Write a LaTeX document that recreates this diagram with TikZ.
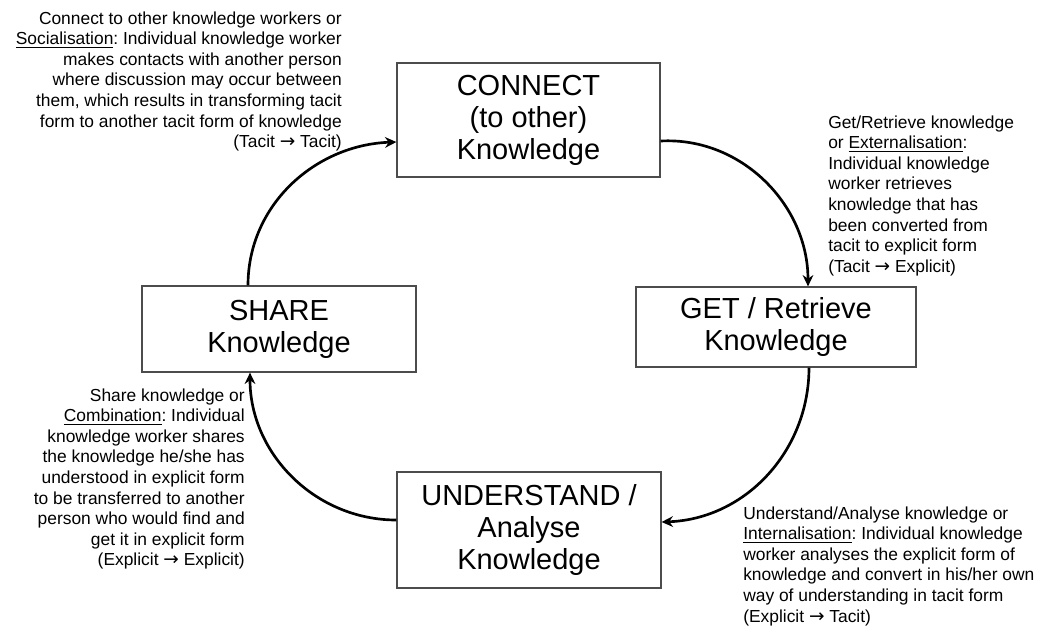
\documentclass[tikz,border=0pt]{standalone}
\usepackage{fontspec}
\setmainfont{Liberation Sans}
\newfontfamily\arrowfont{DejaVu Sans}
\newcommand{\toarrow}{{\arrowfont\fontsize{13.9}{15.4}\selectfont →}}
\usetikzlibrary{arrows.meta,calc}
\frenchspacing
\begin{document}
\begin{tikzpicture}[x=0.75pt,y=-0.75pt,
  box/.style={draw=black!70, line width=0.9pt, align=center, inner sep=0pt,
    font=\fontsize{21.75}{24}\selectfont},
  note/.style={inner sep=0pt, font=\fontsize{13.05}{15.4}\selectfont},
  flow/.style={line width=2pt, -{Stealth[length=8.5pt,width=8pt]}}]
\useasboundingbox (0,0) rectangle (1040,626);
% boxes
\node[box, minimum width=197.25pt, minimum height=85.5pt] (c) at (528.5,120) {CONNECT\\(to other)\\Knowledge};
\node[box, minimum width=210pt, minimum height=60pt] (g) at (776,327) {GET / Retrieve\\Knowledge};
\node[box, minimum width=205.5pt, minimum height=64.5pt] (s) at (279,329) {SHARE\\Knowledge};
\node[box, minimum width=198pt, minimum height=87pt] (u) at (529,530) {UNDERSTAND /\\Analyse\\Knowledge};
% notes
\node[note, align=right, anchor=north east] (n1) at (342,11.5) {Connect to other knowledge workers or\\
\underline{Socialisation}: Individual knowledge worker\\
makes contacts with another person\\
where discussion may occur between\\
them, which results in transforming tacit\\
form to another tacit form of knowledge\\
(Tacit \toarrow{} Tacit)};
\node[note, align=left, anchor=north west] (n2) at (828,115.5) {Get/Retrieve knowledge\\
or \underline{Externalisation}:\\
Individual knowledge\\
worker retrieves\\
knowledge that has\\
been converted from\\
tacit to explicit form\\
(Tacit \toarrow{} Explicit)};
\node[note, align=right, anchor=north east] (n3) at (245,388.5) {Share knowledge or\\
\underline{Combination}: Individual\\
knowledge worker shares\\
the knowledge he/she has\\
understood in explicit form\\
to be transferred to another\\
person who would find and\\
get it in explicit form\\
(Explicit \toarrow{} Explicit)};
\node[note, align=left, anchor=north west] (n4) at (743,506.5) {Understand/Analyse knowledge or\\
\underline{Internalisation}: Individual knowledge\\
worker analyses the explicit form of\\
knowledge and convert in his/her own\\
way of understanding in tacit form\\
(Explicit \toarrow{} Tacit)};
% connectors
\draw[flow] ($(c.east)+(0,21)$) to[out=3,in=90] ($(g.north)+(32,0)$);
\draw[flow] ($(g.south)+(33,0)$) to[out=-90,in=2] ($(u.east)+(0,-8)$);
\draw[flow] ($(u.west)+(0,-10)$) to[out=180,in=-90] ($(s.south)+(-29,0)$);
\draw[flow] ($(s.north)+(-31,0)$) to[out=90,in=182] ($(c.west)+(0,22)$);
\end{tikzpicture}
\end{document}
